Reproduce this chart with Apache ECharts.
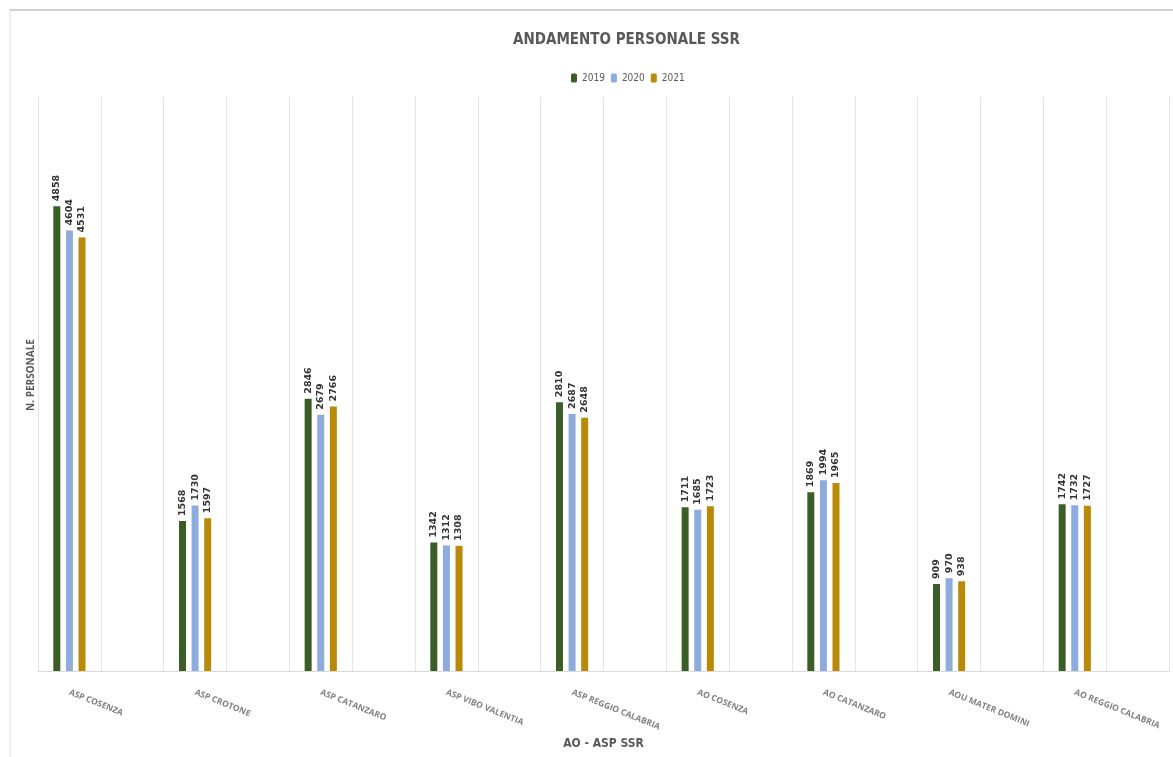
<!DOCTYPE html>
<html><head><meta charset="utf-8">
<script src="https://cdn.jsdelivr.net/npm/echarts@6/dist/echarts.min.js"></script>
<style>html,body{margin:0;padding:0;background:#fff;}#c{width:1173px;height:757px;}</style>
</head><body><div id="c"></div>
<script>
const categories = ['ASP COSENZA','ASP CROTONE','ASP CATANZARO','ASP VIBO VALENTIA','ASP REGGIO CALABRIA','AO COSENZA','AO CATANZARO','AOU MATER DOMINI','AO REGGIO CALABRIA'];
const years = ['2019','2020','2021'];
const v2019 = [4858,1568,2846,1342,2810,1711,1869,909,1742];
const v2020 = [4604,1730,2679,1312,2687,1685,1994,970,1732];
const v2021 = [4531,1597,2766,1308,2648,1723,1965,938,1727];
const colors = ['#3B5E27','#8EABDE','#B88A08'];

// Source sheet has an empty row after each entity
const axisCats = [];
categories.forEach(c => { axisCats.push(c); axisCats.push(''); });
function spread(arr){ const o=[]; arr.forEach(v=>{o.push(v); o.push(null);}); return o; }
const seriesVals = [v2019, v2020, v2021];

const chart = echarts.init(document.getElementById('c'));
const cond = "'DejaVu Sans Condensed','Liberation Sans Narrow','Open Sans',sans-serif";
chart.setOption({
  animation:false,
  title:{text:'ANDAMENTO PERSONALE SSR', left:508, top:28,
    textStyle:{fontFamily:cond, fontWeight:'bold', fontSize:15, color:'#595959'}},
  legend:{data:years, top:68, left:566, itemWidth:6, itemHeight:9, itemGap:6,
    textStyle:{fontFamily:cond, fontSize:10, color:'#595959'}},
  grid:{left:38, right:4, top:97, bottom:86},
  xAxis:{type:'category', data:axisCats, boundaryGap:true,
    name:'AO - ASP SSR', nameLocation:'middle', nameGap:60,
    nameTextStyle:{fontFamily:cond, fontWeight:'bold', fontSize:12, color:'#595959'},
    axisLine:{lineStyle:{color:'#d9d9d9'}}, axisTick:{show:false},
    splitLine:{show:true, lineStyle:{color:'#e3e3e3', width:1}},
    axisLabel:{interval:0, rotate:-22, margin:21, fontFamily:"'Open Sans',sans-serif", fontSize:8.5, color:'#808080', fontWeight:'bold'}},
  yAxis:{type:'value', min:0, max:6000,
    name:'N. PERSONALE', nameLocation:'middle', nameGap:2, nameRotate:90,
    nameTextStyle:{fontFamily:"'Open Sans',sans-serif", fontWeight:'bold', fontSize:10, color:'#595959', padding:[0,0,0,18]},
    axisLine:{show:false}, axisTick:{show:false}, axisLabel:{show:false}, splitLine:{show:false}},
  series: years.map((y,i)=>({
    name:y, type:'bar', data:spread(seriesVals[i]), barWidth:7, barGap:'80%',
    itemStyle:{color:colors[i]},
    label:{show:true, position:'top', rotate:90, align:'left', verticalAlign:'middle', distance:5,
      fontFamily:"'DejaVu Sans',sans-serif", fontSize:9.5, fontWeight:'bold', color:'#333333'}
  })),
  graphic:[
    {type:'line', shape:{x1:10,y1:10,x2:1173,y2:10}, style:{stroke:'#d0d0d0', lineWidth:2}},
    {type:'line', shape:{x1:10,y1:10,x2:10,y2:757}, style:{stroke:'#e0e0e0', lineWidth:1}}
  ]
});
</script></body></html>
